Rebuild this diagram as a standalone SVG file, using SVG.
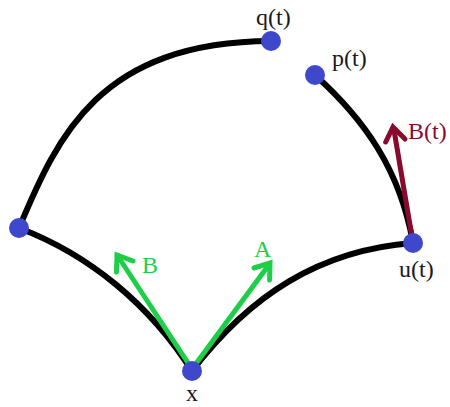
<svg xmlns="http://www.w3.org/2000/svg" width="450" height="407" viewBox="0 0 450 407">
<style>
.curve{fill:none;stroke:#000;stroke-width:6;stroke-linecap:round}
.dot{fill:#3f48cc}
.lbl{font-family:"Liberation Serif",serif;font-size:24px;fill:#1a1a1a}
.g{stroke:#1ccf47;stroke-width:5;fill:none;stroke-linecap:round;stroke-linejoin:miter}
.r{stroke:#880a2e;stroke-width:5;fill:none;stroke-linecap:round;stroke-linejoin:miter}
</style>
<rect width="450" height="407" fill="#fff"/>
<g id="connectors">
<path class="curve" d="M19,228 C58,135 100,42 271,41"/>
<path class="curve" d="M19,228 C90,255 150,305 192,371"/>
<path class="curve" d="M192,371 C250,295 320,250 413,243"/>
<path class="curve" d="M315,75 C365,120 400,170 413,243"/>
</g>
<g id="arrowA">
<path class="g" d="M192,369 L268,266"/>
<path class="g" d="M254,268 L270,263 L269.6,280"/>
<text class="lbl" x="254" y="257" style="fill:#1ccf47">A</text>
</g>
<g id="arrowB">
<path class="g" d="M192,369 L119,258"/>
<path class="g" d="M116.5,272 L117,255 L133,261"/>
<text class="lbl" x="142" y="273" style="fill:#1ccf47">B</text>
</g>
<g id="arrowBt">
<path class="r" d="M413,243 L394,130"/>
<path class="r" d="M385.7,142 L393,127 L405,139"/>
<text class="lbl" x="408" y="139" style="fill:#880a2e">B(t)</text>
</g>
<g id="node-left"><circle class="dot" cx="19" cy="228" r="10"/></g>
<g id="node-q"><circle class="dot" cx="271" cy="41" r="10"/><text class="lbl" x="256" y="25">q(t)</text></g>
<g id="node-p"><circle class="dot" cx="315" cy="75" r="10"/><text class="lbl" x="332" y="66">p(t)</text></g>
<g id="node-u"><circle class="dot" cx="413" cy="243" r="10"/><text class="lbl" x="399" y="277">u(t)</text></g>
<g id="node-x"><circle class="dot" cx="192" cy="371" r="10"/><text class="lbl" x="186" y="401">x</text></g>
</svg>
